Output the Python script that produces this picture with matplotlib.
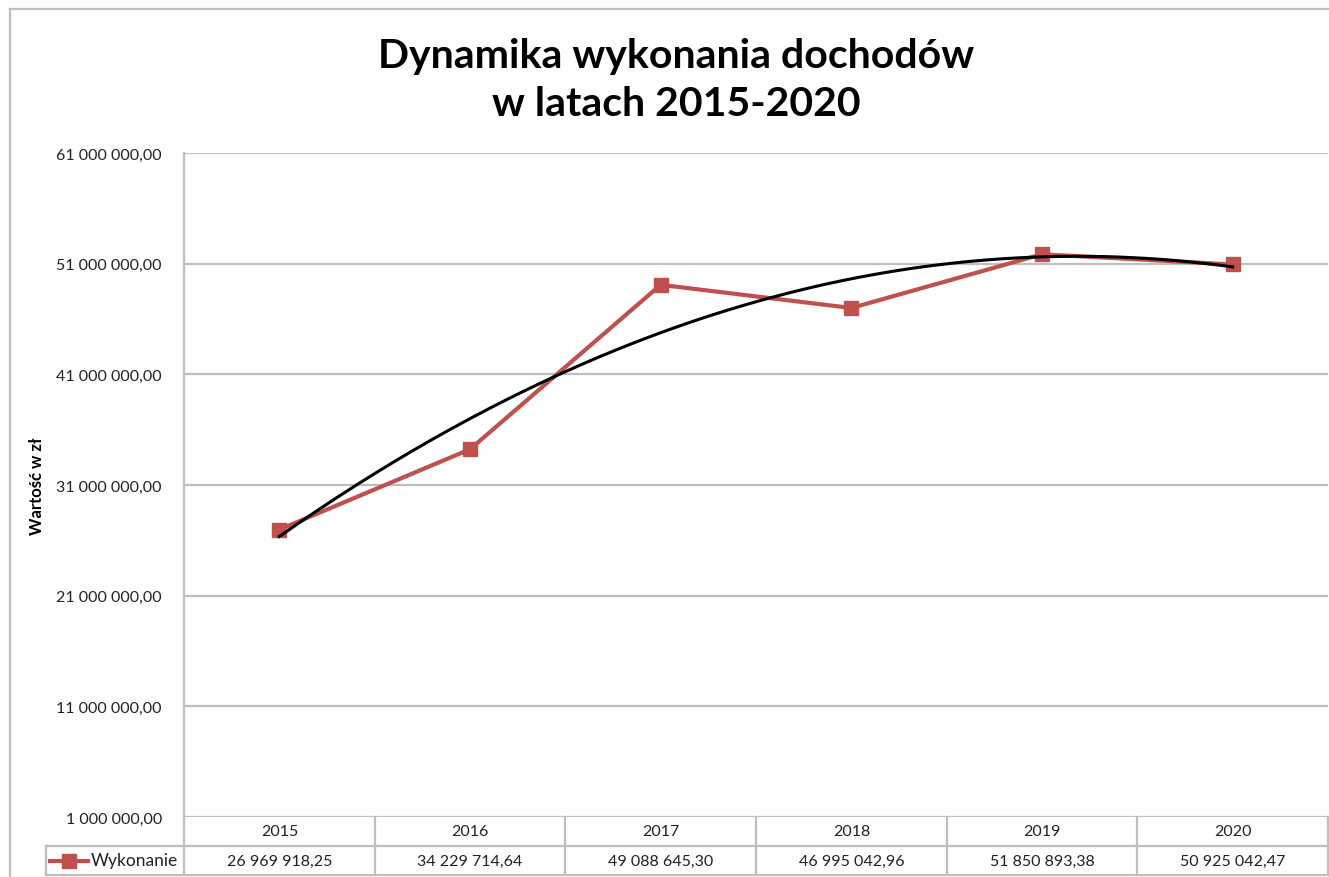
import numpy as np
import matplotlib.pyplot as plt
from matplotlib.lines import Line2D
from matplotlib.transforms import blended_transform_factory

plt.rcParams['font.family'] = ['Lato', 'DejaVu Sans']

# data
years = ['2015', '2016', '2017', '2018', '2019', '2020']
values = [26969918.25, 34229714.64, 49088645.30, 46995042.96, 51850893.38, 50925042.47]
value_labels = ['26 969 918,25', '34 229 714,64', '49 088 645,30',
                '46 995 042,96', '51 850 893,38', '50 925 042,47']
y_ticks = [1000000, 11000000, 21000000, 31000000, 41000000, 51000000, 61000000]
series_name = 'Wykonanie'

RED = '#C0504D'
GRID = '#BFBFBF'
W, H = 1329, 878

fig = plt.figure(figsize=(W / 100, H / 100), dpi=100)
ax = fig.add_axes([184 / W, 1 - 818 / H, (1328 - 184) / W, (818 - 154) / H])

x = np.arange(len(years))

# trend line (2nd order polynomial fitted to the data)
coef = np.polyfit(x + 1, values, 2)
xs = np.linspace(0, len(years) - 1, 200)
ax.plot(xs, np.polyval(coef, xs + 1), color='black', lw=2.2, zorder=4)

ax.plot(x, values, color=RED, lw=3, marker='s', markersize=10,
        markeredgecolor=RED, zorder=3)

ax.set_xlim(-0.5, len(years) - 0.5)
ax.set_ylim(y_ticks[0], y_ticks[-1])
ax.set_yticks(y_ticks)
ax.set_yticklabels([f'{v:,.2f}'.replace(',', ' ').replace('.', ',') for v in y_ticks],
                   fontsize=11.5, color='#222222')
ax.tick_params(axis='y', length=0, pad=16)
ax.set_xticks([])
ax.grid(axis='y', color=GRID, lw=1.6)
for s in ['top', 'right', 'bottom']:
    ax.spines[s].set_visible(False)
ax.spines['left'].set_color(GRID)
ax.spines['left'].set_linewidth(1.6)

ax.set_ylabel('Wartość w zł', fontsize=12, fontweight='bold', labelpad=0)
ax.yaxis.set_label_coords((45 - 184) / (1328 - 184), 0.5)

# data table under the plot
row1 = -(847 - 818) / (818 - 154)
row2 = -(876 - 818) / (818 - 154)
tr = blended_transform_factory(ax.transData, ax.transAxes)
edges = np.arange(len(years) + 1) - 0.5
for e in edges:
    ax.plot([e, e], [0, row2], transform=tr, color=GRID, lw=1.6, clip_on=False)
ax.plot([-0.5, len(years) - 0.5], [row1, row1], transform=tr, color=GRID, lw=1.6, clip_on=False)
ax.plot([-0.5, len(years) - 0.5], [row2, row2], transform=tr, color=GRID, lw=1.6, clip_on=False)
for i in x:
    ax.text(i, (0 + row1) / 2, years[i], transform=tr, ha='center', va='center',
            fontsize=11.5, color='#222222')
    ax.text(i, (row1 + row2) / 2, value_labels[i], transform=tr, ha='center', va='center',
            fontsize=11.5, color='#222222')

# legend cell
lx0, lx1 = 46 / W, 184 / W
ly0, ly1 = 1 - 876 / H, 1 - 847 / H
for xx, yy in [([lx0, lx1], [ly0, ly0]), ([lx0, lx1], [ly1, ly1]), ([lx0, lx0], [ly0, ly1])]:
    fig.add_artist(Line2D(xx, yy, color=GRID, lw=1.6))
ym = (ly0 + ly1) / 2
fig.add_artist(Line2D([50 / W, 88 / W], [ym, ym], color=RED, lw=3))
fig.add_artist(Line2D([69 / W], [ym], color=RED, marker='s', markersize=10, lw=0))
fig.text(91 / W, ym, series_name, ha='left', va='center', fontsize=12.5, color='#222222')

# outer chart border
fig.add_artist(Line2D([10 / W, 10 / W], [0, 1 - 10 / H], color=GRID, lw=1.6))
fig.add_artist(Line2D([10 / W, 1], [1 - 10 / H, 1 - 10 / H], color=GRID, lw=1.6))

fig.suptitle('Dynamika wykonania dochodów\nw latach 2015-2020', fontsize=29.5,
             fontweight='bold', x=676 / W, y=1 - 38 / H,
             va='top', linespacing=1.38)

fig.savefig('out.png', dpi=100, facecolor='white')
